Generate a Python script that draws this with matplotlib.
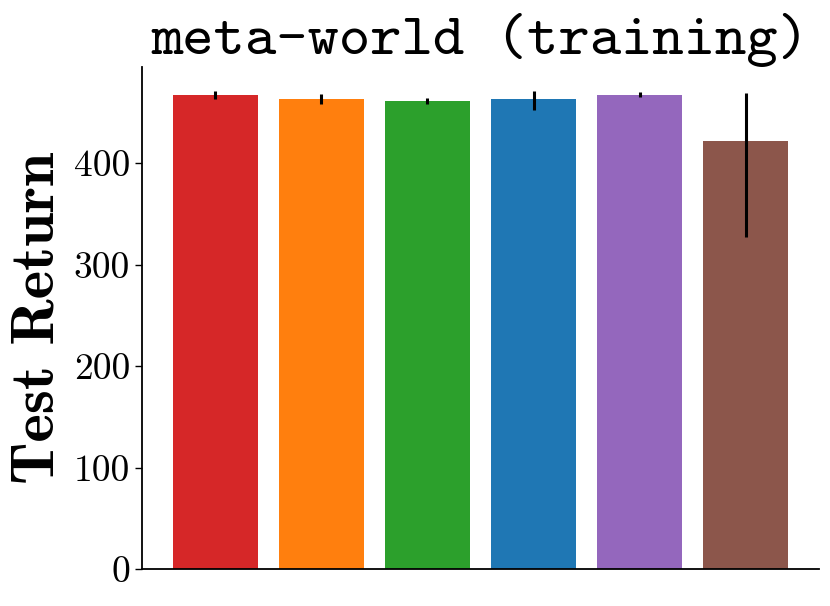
import numpy as np
import matplotlib.pyplot as plt

methods = ['m0', 'm1', 'm2', 'm3', 'm4', 'm5']
means = [467, 463.5, 461, 463, 467.5, 422]
err_low = [4, 5, 3, 11, 2.5, 95]
err_high = [4, 5, 3, 8, 2.5, 47]
colors = ['#d62728', '#ff7f0e', '#2ca02c', '#1f77b4', '#9467bd', '#8c564b']

fig = plt.figure(figsize=(8.3, 6.06), dpi=100)
ax = fig.add_axes([0.171, 0.061, 0.816, 0.828])

x = np.arange(len(methods))
ax.bar(x, means, width=0.8, color=colors,
       yerr=[err_low, err_high], error_kw=dict(elinewidth=2.2, ecolor='black', capsize=0))

ax.spines['top'].set_visible(False)
ax.spines['right'].set_visible(False)
ax.spines['left'].set_linewidth(1.3)
ax.spines['bottom'].set_linewidth(1.3)
ax.set_xticks([])
ax.set_yticks([0, 100, 200, 300, 400])
ax.tick_params(axis='y', length=5, width=1.0, labelsize=27)
for lab in ax.get_yticklabels():
    lab.set_fontfamily('cmr10')

ax.set_ylabel('Test Return', fontsize=44, fontfamily='cmb10', labelpad=6)
ax.set_title('meta-world (training)', fontsize=43, fontfamily='cmtt10', pad=6)

fig.savefig('out.png', dpi=100)
